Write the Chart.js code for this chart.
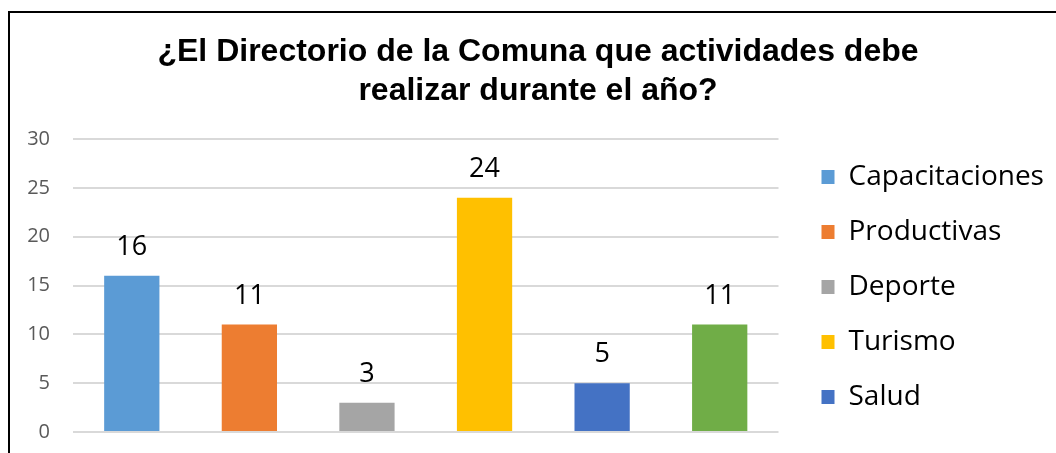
<!DOCTYPE html>
<html>
<head>
<meta charset="utf-8">
<script src="https://cdn.jsdelivr.net/npm/chart.js"></script>
<style>
  html, body { margin: 0; padding: 0; background: #fff; overflow: hidden; }
  #frame {
    position: absolute; left: 8px; top: 11px; width: 1200px; height: 600px;
    border-top: 2px solid #000; border-left: 2px solid #000;
  }
  #wrap { position: absolute; left: 0; top: 0; width: 1056px; height: 453px; }
</style>
</head>
<body>
<div id="frame"></div>
<div id="wrap"><canvas id="chart" width="1056" height="453"></canvas></div>
<script>
const categories = ['Capacitaciones', 'Productivas', 'Deporte', 'Turismo', 'Salud', 'Otros'];
const values = [16, 11, 3, 24, 5, 11];
const colors = ['#5B9BD5', '#ED7D31', '#A5A5A5', '#FFC000', '#4472C4', '#70AD47'];
const yTicks = [0, 5, 10, 15, 20, 25, 30];
const legendShown = 5; // excel dropped the last entry, not enough room

// one dataset per category so each one gets its own legend entry
const datasets = categories.map(function (name, i) {
    return {
        label: name,
        data: values.map(function (v, j) { return j === i ? v : null; }),
        backgroundColor: colors[i],
        borderWidth: 0,
        grouped: false,
        categoryPercentage: 1,
        barPercentage: 0.47
    };
});

// value labels on top of bars
const barLabels = {
    id: 'barLabels',
    afterDatasetsDraw(chart) {
        const ctx = chart.ctx;
        ctx.save();
        ctx.font = '27px "Open Sans"';
        ctx.fillStyle = '#000';
        ctx.textAlign = 'center';
        ctx.textBaseline = 'alphabetic';
        chart.data.datasets.forEach(function (ds, i) {
            const bar = chart.getDatasetMeta(i).data[i];
            ctx.fillText(ds.data[i], bar.x, bar.y - 21);
        });
        ctx.restore();
    }
};

// nudge legend and title a bit, like excel places them
const nudge = {
    id: 'nudge',
    afterLayout(chart) {
        const lg = chart.legend;
        lg.left += 16; lg.right += 16;
        lg.top += 6; lg.bottom += 6;
        const tb = chart.titleBlock;
        tb.left += 11; tb.right += 11;
    }
};

const ctx = document.getElementById('chart').getContext('2d');
new Chart(ctx, {
    type: 'bar',
    data: { labels: categories, datasets: datasets },
    plugins: [barLabels, nudge],
    options: {
        responsive: false,
        animation: false,
        layout: { padding: { left: 24, right: 26, top: 33, bottom: 21 } },
        plugins: {
            title: {
                display: true,
                text: ['¿El Directorio de la Comuna que actividades debe', 'realizar durante el año?'],
                color: '#000',
                font: { family: 'Liberation Sans', size: 32, weight: 'bold', lineHeight: 1.22 },
                padding: { top: 0, bottom: 28 }
            },
            legend: {
                position: 'right',
                align: 'end',
                labels: {
                    filter: function (item) { return item.datasetIndex < legendShown; },
                    color: '#000',
                    font: { family: 'Open Sans', size: 28, lineHeight: 1 },
                    boxWidth: 13,
                    boxHeight: 14,
                    padding: 27
                }
            },
            tooltip: { enabled: false }
        },
        scales: {
            x: { display: false },
            y: {
                min: 0,
                max: 30,
                afterBuildTicks: function (scale) {
                    scale.ticks = yTicks.map(function (v) { return { value: v }; });
                },
                afterFit: function (scale) { scale.width = 49; },
                ticks: { color: '#595959', font: { family: 'Open Sans', size: 20 }, padding: 0 },
                grid: { color: '#d9d9d9', lineWidth: 2, tickLength: 23, tickColor: 'rgba(0,0,0,0)' },
                border: { display: false }
            }
        }
    }
});
</script>
</body>
</html>
